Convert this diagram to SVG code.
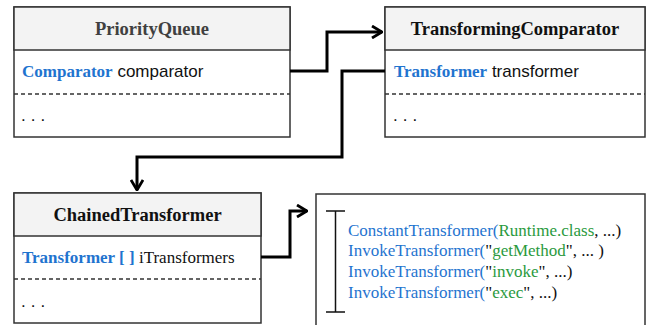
<svg xmlns="http://www.w3.org/2000/svg" width="651" height="325" viewBox="0 0 651 325">
  <style>
    .frame { fill: #ffffff; stroke: #333333; stroke-width: 1.5; }
    .head { fill: #f3f3f3; stroke: #333333; stroke-width: 1.5; }
    .sep { stroke: #333333; stroke-width: 1.3; stroke-dasharray: 4 3; fill: none; }
    .title { font-family: "Liberation Serif", "Times New Roman", "DejaVu Serif", serif; font-weight: 700; font-size: 18.5px; text-anchor: middle; fill: #111111; }
    .type { font-family: "Liberation Serif", "Times New Roman", "DejaVu Serif", serif; font-weight: 700; fill: #1f74cf; }
    .field { font-family: "Liberation Sans", Arial, sans-serif; font-size: 17px; fill: #111111; }
    .fieldserif { font-family: "Liberation Serif", "Times New Roman", serif; font-size: 17px; fill: #111111; }
    .dots { font-family: "Liberation Sans", Arial, sans-serif; font-size: 17px; fill: #111111; letter-spacing: 5px; }
    .link { fill: none; stroke: #000000; stroke-width: 3; stroke-linejoin: miter; }
    .code { font-family: "Liberation Serif", "Times New Roman", serif; font-size: 17px; fill: #1f74cf; }
    .str { fill: #2a9a3e; }
    .plain { fill: #111111; }
  </style>
  <defs>
    <marker id="open-arrow" viewBox="0 0 12 14" refX="11" refY="7" markerWidth="12" markerHeight="14" markerUnits="userSpaceOnUse" orient="auto">
      <path d="M1,1 L11,7 L1,13" fill="none" stroke="#000000" stroke-width="2.8"/>
    </marker>
  </defs>

  <!-- PriorityQueue -->
  <g id="priority-queue">
    <rect class="frame" x="14" y="7" width="276" height="130"/>
    <rect class="head" x="14" y="7" width="276" height="43"/>
    <text class="title" x="152" y="35" style="fill:#404040">PriorityQueue</text>
    <text class="field" x="22" y="77"><tspan class="type">Comparator</tspan> comparator</text>
    <line class="sep" x1="14" y1="94" x2="290" y2="94"/>
    <text class="dots" x="21" y="121">...</text>
  </g>

  <!-- TransformingComparator -->
  <g id="transforming-comparator">
    <rect class="frame" x="385" y="7" width="260" height="130"/>
    <rect class="head" x="385" y="7" width="260" height="43"/>
    <text class="title" x="515" y="35">TransformingComparator</text>
    <text class="field" x="394" y="77"><tspan class="type">Transformer</tspan> transformer</text>
    <line class="sep" x1="385" y1="94" x2="645" y2="94"/>
    <text class="dots" x="393" y="121">...</text>
  </g>

  <!-- ChainedTransformer -->
  <g id="chained-transformer">
    <rect class="frame" x="14" y="193" width="247" height="130"/>
    <rect class="head" x="14" y="193" width="247" height="43"/>
    <text class="title" x="137.5" y="221">ChainedTransformer</text>
    <text class="fieldserif" x="22" y="263"><tspan class="type">Transformer [ ]</tspan> iTransformers</text>
    <line class="sep" x1="14" y1="279" x2="261" y2="279"/>
    <text class="dots" x="21" y="307">...</text>
  </g>

  <!-- transformer chain contents -->
  <g id="transformer-array">
    <rect class="frame" x="316" y="194" width="329" height="140"/>
    <path d="M326,211 H345 M335.5,211 V312 M326,312 H345" fill="none" stroke="#111111" stroke-width="1.5"/>
    <text class="code" x="348" y="236">ConstantTransformer(<tspan class="str">Runtime.class</tspan><tspan class="plain">,  ...)</tspan></text>
    <text class="code" x="348" y="256">InvokeTransformer(<tspan class="plain">"</tspan><tspan class="str">getMethod</tspan><tspan class="plain">", ... )</tspan></text>
    <text class="code" x="348" y="277">InvokeTransformer(<tspan class="plain">"</tspan><tspan class="str">invoke</tspan><tspan class="plain">", ...)</tspan></text>
    <text class="code" x="348" y="298">InvokeTransformer(<tspan class="plain">"</tspan><tspan class="str">exec</tspan><tspan class="plain">", ...)</tspan></text>
  </g>

  <!-- connectors -->
  <g id="connectors">
    <path class="link" d="M290,71 H327 V32 H382" marker-end="url(#open-arrow)"/>
    <path class="link" d="M385,71 H342 V157 H137 V190" marker-end="url(#open-arrow)"/>
    <path class="link" d="M261,257 H290 V211 H307" marker-end="url(#open-arrow)"/>
  </g>
</svg>
